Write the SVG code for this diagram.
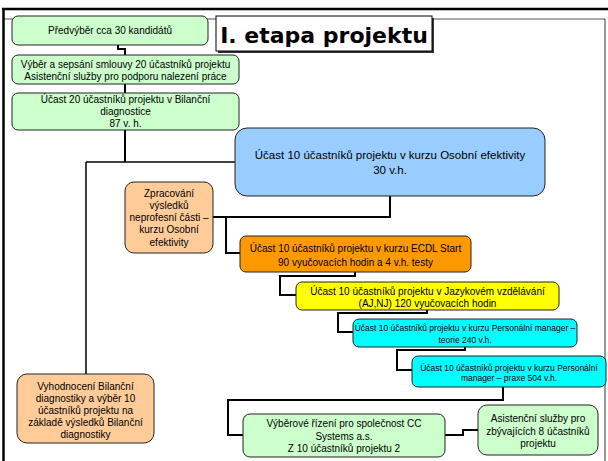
<svg xmlns="http://www.w3.org/2000/svg" width="608" height="461" viewBox="0 0 608 461">
<style>
.t{font-family:"Liberation Sans",Arial,sans-serif;font-size:10px;fill:#000;text-anchor:middle}
.box{stroke:#222;stroke-width:1}
.g{fill:#ccffcc}.p{fill:#ffcc99}.b{fill:#99ccff}.o{fill:#ff9900}.y{fill:#ffff00}.c{fill:#00ffff}
.con{fill:none;stroke:#000;stroke-width:2}
</style>
<rect width="608" height="461" fill="#fff"/>
<g id="frame">
<line x1="3" y1="19" x2="605" y2="19" stroke="#555" stroke-width="1"/>
<line x1="605" y1="19" x2="605" y2="461" stroke="#333" stroke-width="1"/>
<line x1="2" y1="9" x2="608" y2="9" stroke="#000" stroke-width="2.5"/>
<line x1="3.5" y1="8" x2="3.5" y2="461" stroke="#000" stroke-width="2.5"/>
</g>
<g id="connectors">
<path class="con" d="M118,45V49H125V55"/>
<path class="con" d="M125,84V93"/>
<path class="con" d="M125,130V162"/>
<path class="con" d="M86,162H235" style="stroke-width:1.5"/>
<path class="con" d="M86,162V374" style="stroke-width:1.5"/>
<path class="con" d="M390,196V217H213"/>
<path class="con" d="M226,217V253H240"/>
<path class="con" d="M355,272V276H280V295H296"/>
<path class="con" d="M427,310V313H338V332H353"/>
<path class="con" d="M465,347V350H397V370H412"/>
<path class="con" d="M503,387V400H228V435H243"/>
<path class="con" d="M445,435H463V430H478"/>
</g>
<g id="title">
<rect x="218" y="18" width="216" height="35" fill="#333"/>
<rect x="216" y="16" width="216" height="35" fill="#fff" stroke="#000" stroke-width="1"/>
<text x="324" y="43" style="font-family:'DejaVu Sans',Verdana,sans-serif;font-weight:bold;font-size:22px;text-anchor:middle">I. etapa projektu</text>
</g>
<g id="n1"><rect class="box g" x="12" y="16" width="196" height="29" rx="6"/>
<text class="t" x="110" y="34">Předvýběr cca 30 kandidátů</text></g>
<g id="n2"><rect class="box g" x="12" y="55" width="227" height="29" rx="6"/>
<text class="t" x="125.5" y="67.5">Výběr a sepsání smlouvy 20 účastníků projektu</text>
<text class="t" x="125.5" y="79.5">Asistenční služby pro podporu nalezení práce</text></g>
<g id="n3"><rect class="box g" x="12" y="93" width="227" height="37" rx="6"/>
<text class="t" x="125.5" y="102.5">Účast 20 účastníků projektu v Bilanční</text>
<text class="t" x="125.5" y="114.5">diagnostice</text>
<text class="t" x="125.5" y="126.5">87 v. h.</text></g>
<g id="n4"><rect class="box b" x="235" y="128" width="310" height="68" rx="12"/>
<text class="t" x="390" y="159" style="font-size:11.5px">Účast 10 účastníků projektu v kurzu Osobní efektivity</text>
<text class="t" x="390" y="174" style="font-size:11.5px">30 v.h.</text></g>
<g id="n5"><rect class="box p" x="125" y="182" width="88" height="71" rx="9"/>
<text class="t" x="169" y="196.5">Zpracování</text>
<text class="t" x="169" y="208.8">výsledků</text>
<text class="t" x="169" y="221.1">neprofesní části –</text>
<text class="t" x="169" y="233.4">kurzu Osobní</text>
<text class="t" x="169" y="245.7">efektivity</text></g>
<g id="n6"><rect class="box o" x="240" y="236" width="231" height="36" rx="6"/>
<text class="t" x="355.5" y="251.5">Účast 10 účastníků projektu v kurzu ECDL Start</text>
<text class="t" x="355.5" y="265.5">90 vyučovacích hodin a 4 v.h. testy</text></g>
<g id="n7"><rect class="box y" x="296" y="282" width="263" height="28" rx="6"/>
<text class="t" x="427.5" y="294.5">Účast 10 účastníků projektu v Jazykovém vzdělávání</text>
<text class="t" x="427.5" y="306.5">(AJ,NJ) 120 vyučovacích hodin</text></g>
<g id="n8"><rect class="box c" x="353" y="319" width="224" height="28" rx="6"/>
<text class="t" x="465" y="331" style="font-size:8.5px">Účast 10 účastníků projektu v kurzu Personální manager –</text>
<text class="t" x="465" y="343" style="font-size:8.5px">teorie 240 v.h.</text></g>
<g id="n9"><rect class="box c" x="412" y="356" width="194" height="31" rx="6"/>
<text class="t" x="509" y="371" style="font-size:8.5px">Účast 10 účastníků projektu v kurzu Personální</text>
<text class="t" x="509" y="381" style="font-size:8.5px">manager – praxe 504 v.h.</text></g>
<g id="n10"><rect class="box g" x="243" y="414" width="202" height="43" rx="7"/>
<text class="t" x="344" y="426.5">Výběrové řízení pro společnost CC</text>
<text class="t" x="344" y="439.5">Systems a.s.</text>
<text class="t" x="344" y="451.5">Z 10 účastníků projektu 2</text></g>
<g id="n11"><rect class="box g" x="478" y="405" width="120" height="50" rx="9"/>
<text class="t" x="538" y="421.5">Asistenční služby pro</text>
<text class="t" x="538" y="434.5">zbývajících 8 účastníků</text>
<text class="t" x="538" y="446.5">projektu</text></g>
<g id="n12"><rect class="box p" x="17" y="374" width="137" height="69" rx="10"/>
<text class="t" x="85.5" y="389.5">Vyhodnocení Bilanční</text>
<text class="t" x="85.5" y="401.5">diagnostiky a výběr 10</text>
<text class="t" x="85.5" y="413.5">účastníků projektu na</text>
<text class="t" x="85.5" y="425.5">základě výsledků Bilanční</text>
<text class="t" x="85.5" y="437.5">diagnostiky</text></g>
</svg>
